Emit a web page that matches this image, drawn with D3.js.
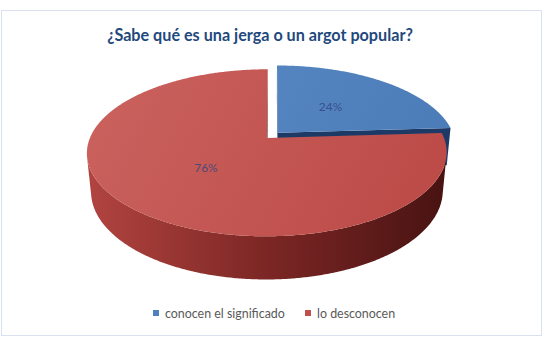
<!DOCTYPE html>
<html>
<head>
<meta charset="utf-8">
<script src="https://cdn.jsdelivr.net/npm/d3@7"></script>
<style>
  body { margin: 0; background: #fff; }
  svg { display: block; }
</style>
</head>
<body>
<script>
const w = 546;
const h = 342;

// data
const categories = ["conocen el significado", "lo desconocen"];
const values = [24, 76];
const labels = ["24%", "76%"];
const colors = ["#4f81bd", "#c0504d"];
const title = "¿Sabe qué es una jerga o un argot popular?";

// wall shading per slice: light (left side) -> mid (front) -> dark (right side)
const wallColors = [
    ["#3a64a0", "#2a4c80", "#1d3a66"],
    ["#b0433f", "#7a2624", "#461211"]
];

// perspective camera for the 3d pie
const cx = 272.4, cy = 135.4;
const f = 893, D = 5.073;
const S = 0.4543, C = 0.8908;   // sin / cos of the elevation
const thick = 0.2457;
const explode = 0.045;
const labelR = 0.47;

function proj(x, y, z) {
    const depth = D - y * S - z * C;
    return [cx + f * x / depth, cy + f * (z * S - y * C) / depth];
}

function area(pts) {
    let s = 0;
    for (let i = 0; i < pts.length; i++) {
        const a = pts[i], b = pts[(i + 1) % pts.length];
        s += a[0] * b[1] - b[0] * a[1];
    }
    return s / 2;
}

const svg = d3.select("body")
    .append("svg")
    .attr("width", w)
    .attr("height", h);

svg.append("rect")
    .attr("x", 1.5)
    .attr("y", 10.5)
    .attr("width", 540)
    .attr("height", 325)
    .attr("fill", "#fff")
    .attr("stroke", "#d9e0ee")
    .attr("stroke-width", 1);

const defs = svg.append("defs");
const topGrad = [
    ["#5b8cc7", "#4a7bb7"],
    ["#ca625e", "#bc4a47"]
];
topGrad.forEach((g, i) => {
    const lg = defs.append("linearGradient")
        .attr("id", "top" + i)
        .attr("gradientUnits", "userSpaceOnUse")
        .attr("x1", 100).attr("y1", 70)
        .attr("x2", 420).attr("y2", 240);
    lg.append("stop").attr("offset", "0").attr("stop-color", g[0]);
    lg.append("stop").attr("offset", "1").attr("stop-color", g[1]);
});
wallColors.forEach((g, i) => {
    const lg = defs.append("linearGradient")
        .attr("id", "wall" + i)
        .attr("gradientUnits", "userSpaceOnUse")
        .attr("x1", cx - 180).attr("y1", 0)
        .attr("x2", cx + 180).attr("y2", 0);
    g.forEach((c, j) => lg.append("stop")
        .attr("offset", j / (g.length - 1))
        .attr("stop-color", c));
});

const pie = d3.pie().sort(null);
const arcs = pie(values);
const line = d3.line();
const step = Math.PI / 360;

const slices = arcs.map((a, i) => {
    const mid = (a.startAngle + a.endAngle) / 2;
    return {
        i: i,
        a0: a.startAngle,
        a1: a.endAngle,
        ox: explode * Math.sin(mid),
        oz: -explode * Math.cos(mid),
        mid: mid
    };
});

function rim(s, a, y) {
    return proj(s.ox + Math.sin(a), y, s.oz - Math.cos(a));
}
function apex(s, y) {
    return proj(s.ox, y, s.oz);
}

// far slices first
const order = slices.slice().sort((p, q) => p.oz - q.oz);
const walls = svg.append("g");
const tops = svg.append("g");

order.forEach(s => {
    // radial cut faces
    const faces = [
        [apex(s, 0), rim(s, s.a0, 0), rim(s, s.a0, -thick), apex(s, -thick)],
        [rim(s, s.a1, 0), apex(s, 0), apex(s, -thick), rim(s, s.a1, -thick)]
    ];
    faces.forEach(pts => {
        if (area(pts) < 0) {
            walls.append("path")
                .attr("d", line(pts) + "Z")
                .attr("fill", wallColors[s.i][2]);
        }
    });

    // outer curved wall: keep the angles that face the camera
    const vis = [];
    for (let a = s.a0; a < s.a1 - 1e-9; a += step) {
        const b = Math.min(a + step, s.a1);
        const pts = [rim(s, a, 0), rim(s, b, 0), rim(s, b, -thick), rim(s, a, -thick)];
        if (area(pts) < 0) vis.push(a, b);
    }
    if (vis.length) {
        const lo = d3.min(vis), hi = d3.max(vis);
        const upper = [], lower = [];
        for (let a = lo; a < hi; a += step) {
            upper.push(rim(s, a, 0));
            lower.push(rim(s, a, -thick));
        }
        upper.push(rim(s, hi, 0));
        lower.push(rim(s, hi, -thick));
        walls.append("path")
            .attr("d", line(upper.concat(lower.reverse())) + "Z")
            .attr("fill", "url(#wall" + s.i + ")");
    }

    // top face
    const pts = [apex(s, 0)];
    for (let a = s.a0; a < s.a1; a += step) pts.push(rim(s, a, 0));
    pts.push(rim(s, s.a1, 0));
    tops.append("path")
        .attr("d", line(pts) + "Z")
        .attr("fill", "url(#top" + s.i + ")");
});

// data labels
slices.forEach(s => {
    const p = proj(s.ox + labelR * Math.sin(s.mid), 0, s.oz - labelR * Math.cos(s.mid));
    svg.append("text")
        .attr("x", p[0])
        .attr("y", p[1])
        .attr("dy", "0.35em")
        .attr("text-anchor", "middle")
        .attr("font-family", "Lato, 'Open Sans', sans-serif")
        .attr("font-size", 12)
        .attr("fill", "#34467f")
        .attr("fill-opacity", 0.85)
        .text(labels[s.i]);
});

// title, scaled to the width seen in the picture
const titleText = svg.append("text")
    .attr("x", 260)
    .attr("y", 41)
    .attr("text-anchor", "middle")
    .attr("font-family", "Lato, 'Open Sans', sans-serif")
    .attr("font-weight", "bold")
    .attr("font-size", 18)
    .attr("fill", "#1f497d")
    .text(title);
const tw = titleText.node().getComputedTextLength();
titleText.attr("font-size", 18 * 306 / tw);

// legend
const legendX = [153, 305];
const legend = svg.append("g");
const legendTexts = categories.map((c, i) => {
    legend.append("rect")
        .attr("x", legendX[i])
        .attr("y", 310)
        .attr("width", 6)
        .attr("height", 6)
        .attr("fill", colors[i]);
    return legend.append("text")
        .attr("x", legendX[i] + 12)
        .attr("y", 318)
        .attr("font-family", "Lato, 'Open Sans', sans-serif")
        .attr("font-size", 13)
        .attr("fill", "#595959")
        .text(c);
});
const lw = legendTexts[0].node().getComputedTextLength();
legendTexts.forEach(t => t.attr("font-size", 13 * 120 / lw));
</script>
</body>
</html>
